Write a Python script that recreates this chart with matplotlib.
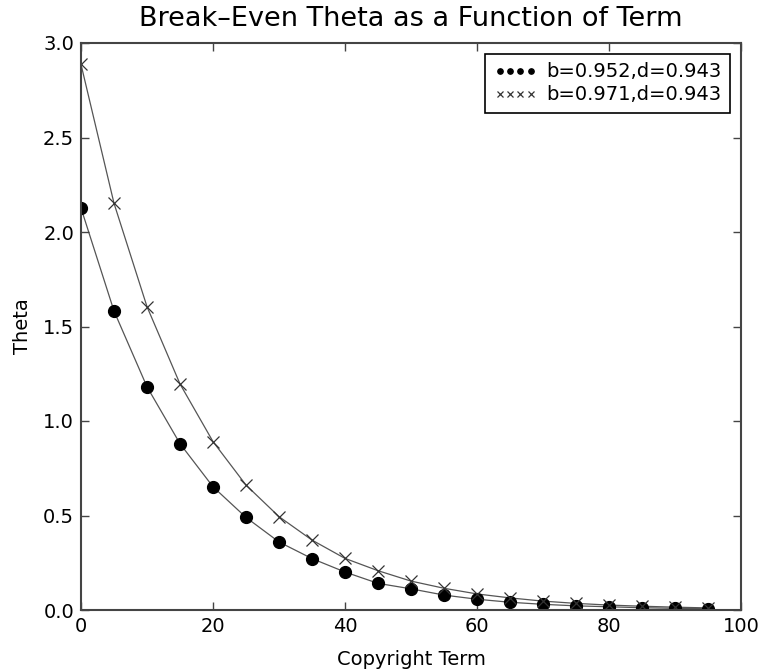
import matplotlib
matplotlib.use('Agg')
import matplotlib.pyplot as plt

term = [0, 5, 10, 15, 20, 25, 30, 35, 40, 45, 50, 55, 60, 65, 70, 75, 80, 85, 90, 95]

theta_952 = [2.127, 1.582, 1.181, 0.880, 0.652, 0.490, 0.360, 0.272, 0.201, 0.141,
             0.112, 0.079, 0.057, 0.041, 0.030, 0.022, 0.017, 0.012, 0.009, 0.007]
theta_971 = [2.887, 2.152, 1.605, 1.196, 0.891, 0.661, 0.494, 0.370, 0.273, 0.208,
             0.153, 0.115, 0.085, 0.064, 0.047, 0.035, 0.026, 0.020, 0.015, 0.011]

labels = ['b=0.952,d=0.943', 'b=0.971,d=0.943']

fig = plt.figure(figsize=(7.66, 6.71), dpi=100)
ax = fig.add_axes([81 / 766, 1 - 610 / 671, 660 / 766, 567 / 671])

# connecting lines
ax.plot(term, theta_952, color='#555555', lw=0.9, zorder=1)
ax.plot(term, theta_971, color='#555555', lw=0.9, zorder=1)
# markers (these carry the legend labels)
ax.plot(term, theta_952, ls='none', marker='o', ms=8.5, color='black',
        label=labels[0], zorder=2)
ax.plot(term, theta_971, ls='none', marker='x', ms=9, mew=0.9, color='#333333',
        label=labels[1], zorder=2)

ax.set_xlim(0, 100)
ax.set_ylim(0, 3.0)
ax.set_xticks([0, 20, 40, 60, 80, 100])
ax.set_yticks([0.0, 0.5, 1.0, 1.5, 2.0, 2.5, 3.0])
ax.set_yticklabels(['0.0', '0.5', '1.0', '1.5', '2.0', '2.5', '3.0'])
ax.tick_params(direction='in', top=True, right=True, length=6, width=1,
               color='#444444', labelsize=14, pad=5)
for sp in ax.spines.values():
    sp.set_color('#444444')
    sp.set_linewidth(1.5)

ax.set_xlabel('Copyright Term', fontsize=14, labelpad=10)
ax.set_ylabel('Theta', fontsize=14, labelpad=8)
ax.set_title('Break\u2013Even Theta as a Function of Term', fontsize=19.5, pad=12)

leg = ax.legend(loc='upper right', numpoints=4, markerscale=0.45, fontsize=14,
                fancybox=False, edgecolor='black', framealpha=1,
                handlelength=2.2, handletextpad=0.5, borderpad=0.45, labelspacing=0.2,
                borderaxespad=0.55)
leg.get_frame().set_linewidth(1.2)

fig.savefig('out.png', dpi=100)
